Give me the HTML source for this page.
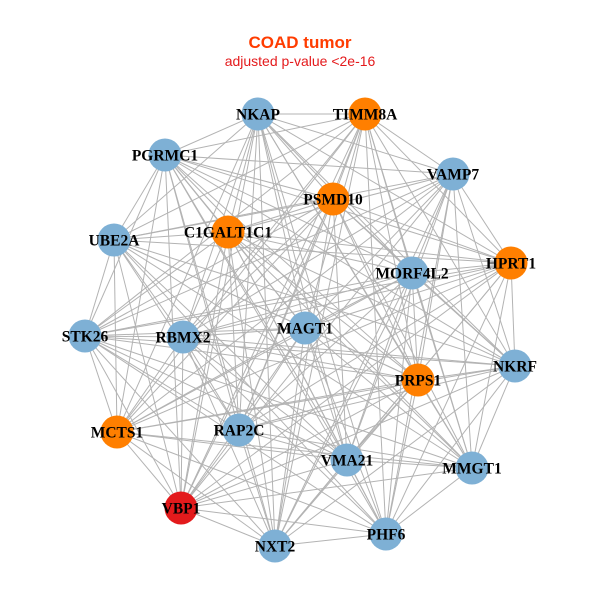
<!DOCTYPE html>
<html><head><meta charset="utf-8"><style>
html,body{margin:0;padding:0;background:#fff;width:600px;height:600px;overflow:hidden}
</style></head><body>
<svg id="s" width="600" height="600" xmlns="http://www.w3.org/2000/svg">
<rect width="600" height="600" fill="#fff"/>
<text x="300" y="48" text-anchor="middle" font-family="Liberation Sans, sans-serif" font-weight="bold" font-size="17" fill="#ff3c00">COAD tumor</text>
<text x="300" y="66" text-anchor="middle" font-family="Liberation Sans, sans-serif" font-size="14" fill="#e41a1c">adjusted p-value &lt;2e-16</text>
<g id="e" stroke="#b3b3b3" stroke-width="1"></g>
<g id="n"></g>
</svg>
<script>
var N=[["NKAP",258,114,"b"],["TIMM8A",365,114,"o"],["PGRMC1",165,155,"b"],["VAMP7",453,174,"b"],["PSMD10",333,199,"o"],["C1GALT1C1",228,232,"o"],["UBE2A",114,240,"b"],["HPRT1",511,263,"o"],["MORF4L2",412,273,"b"],["MAGT1",305,328,"b"],["RBMX2",183,337,"b"],["STK26",85,336,"b"],["NKRF",515,366,"b"],["PRPS1",418,380,"o"],["MCTS1",117,432,"o"],["RAP2C",239,430,"b"],["VMA21",347,460,"b"],["MMGT1",472,468,"b"],["VBP1",181,508,"r"],["NXT2",275,546,"b"],["PHF6",386,534,"b"]];
var C={b:"#7eb0d5",o:"#ff7f00",r:"#e31a1c"};
var ns="http://www.w3.org/2000/svg",e=document.getElementById("e"),g=document.getElementById("n");
for(var i=0;i<N.length;i++)for(var j=i+1;j<N.length;j++){
 if((i*7+j*3)%11==0)continue;
 var l=document.createElementNS(ns,"line");
 l.setAttribute("x1",N[i][1]);l.setAttribute("y1",N[i][2]);l.setAttribute("x2",N[j][1]);l.setAttribute("y2",N[j][2]);e.appendChild(l);}
N.forEach(function(d){
 var c=document.createElementNS(ns,"circle");c.setAttribute("cx",d[1]);c.setAttribute("cy",d[2]);c.setAttribute("r",16.5);c.setAttribute("fill",C[d[3]]);g.appendChild(c);});
N.forEach(function(d){
 var t=document.createElementNS(ns,"text");t.setAttribute("x",d[1]);t.setAttribute("y",d[2]+5.5);t.setAttribute("text-anchor","middle");
 t.setAttribute("font-family","Liberation Serif, serif");t.setAttribute("font-weight","bold");t.setAttribute("font-size","15.5");t.textContent=d[0];g.appendChild(t);});
</script>
</body></html>
